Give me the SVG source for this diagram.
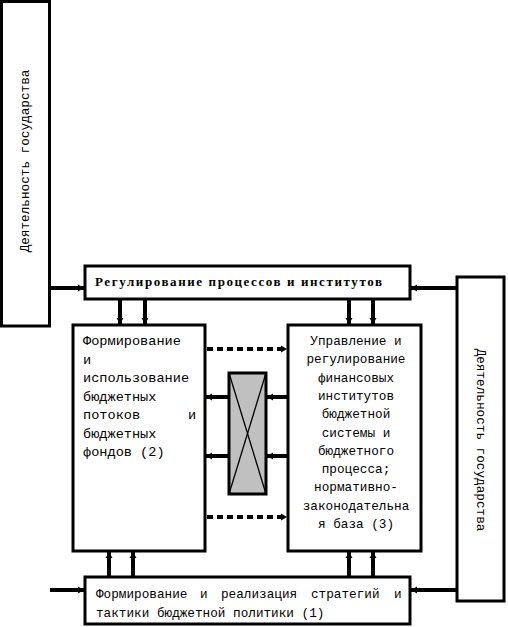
<svg xmlns="http://www.w3.org/2000/svg" width="508" height="627" viewBox="0 0 508 627">
<style>
.box{fill:#fff;stroke:#000;stroke-width:3}
.mono{font-family:"Liberation Mono","Courier New",monospace;font-size:12.7px;fill:#000}
.mono2{font-family:"Liberation Mono","Courier New",monospace;font-size:13.6px;fill:#000}
.bold{font-family:"Liberation Serif","Times New Roman",serif;font-weight:bold;font-size:13px;fill:#000}
.ln{stroke:#000;stroke-width:4;fill:none}
.dot{stroke:#000;stroke-width:4;fill:none;stroke-dasharray:6 4}
</style>
<defs>
<marker id="ah" markerUnits="userSpaceOnUse" markerWidth="7" markerHeight="8" refX="6" refY="4" orient="auto">
<path d="M0,0.5 L6,4 L0,7.5 z" fill="#000"/>
</marker>
</defs>
<g id="state-left">
<rect class="box" x="1.5" y="1.5" width="48" height="324.5"/>
<text class="mono" transform="translate(29,161) rotate(-90)" text-anchor="middle">Деятельность государства</text>
</g>
<g id="state-right">
<rect class="box" x="457" y="277" width="47" height="324"/>
<text class="mono" transform="translate(477,440) rotate(90)" text-anchor="middle">Деятельность государства</text>
</g>
<g id="regulation">
<rect class="box" x="85" y="266" width="325" height="33"/>
<text class="bold" x="95" y="286" textLength="287" lengthAdjust="spacing">Регулирование процессов и институтов</text>
</g>
<g id="block2">
<rect class="box" x="73" y="325" width="132" height="226"/>
<text class="mono2" x="83" y="345">Формирование</text>
<text class="mono2" x="83" y="363.5">и</text>
<text class="mono2" x="83" y="382">использование</text>
<text class="mono2" x="83" y="400.5">бюджетных</text>
<text class="mono2" x="83" y="419">потоков</text>
<text class="mono2" x="188" y="419">и</text>
<text class="mono2" x="83" y="437.5">бюджетных</text>
<text class="mono2" x="83" y="456">фондов (2)</text>
</g>
<g id="block3">
<rect class="box" x="288" y="325" width="133" height="226"/>
<g class="mono" text-anchor="middle">
<text x="356" y="345">Управление и</text>
<text x="356" y="363.3">регулирование</text>
<text x="356" y="381.6">финансовых</text>
<text x="356" y="399.9">институтов</text>
<text x="356" y="418.2">бюджетной</text>
<text x="356" y="436.5">системы и</text>
<text x="356" y="454.8">бюджетного</text>
<text x="356" y="473.1">процесса;</text>
<text x="356" y="491.4">нормативно-</text>
<text x="356" y="509.7">законодательна</text>
<text x="356" y="528">я база (3)</text>
</g>
</g>
<g id="switch">
<rect x="229" y="373" width="37" height="121" fill="#c0c0c0" stroke="#000" stroke-width="3"/>
<line x1="229" y1="373" x2="266" y2="494" stroke="#000" stroke-width="1.3"/>
<line x1="266" y1="373" x2="229" y2="494" stroke="#000" stroke-width="1.3"/>
</g>
<g id="strategy">
<rect class="box" x="85" y="577" width="325" height="47"/>
<text class="mono" x="96" y="598">Формирование</text>
<text class="mono" x="200" y="598">и</text>
<text class="mono" x="221" y="598">реализация</text>
<text class="mono" x="311" y="598">стратегий</text>
<text class="mono" x="394" y="598">и</text>
<text class="mono" x="96" y="617">тактики бюджетной политики (1)</text>
</g>
<g id="connectors">
<line class="ln" x1="50" y1="288" x2="84" y2="288" marker-end="url(#ah)"/>
<line class="ln" x1="456" y1="288" x2="411" y2="288" marker-end="url(#ah)"/>
<line class="ln" x1="120" y1="299" x2="120" y2="324" marker-end="url(#ah)"/>
<line class="ln" x1="145" y1="299" x2="145" y2="324" marker-end="url(#ah)"/>
<line class="ln" x1="349" y1="299" x2="349" y2="324" marker-end="url(#ah)"/>
<line class="ln" x1="373" y1="299" x2="373" y2="324" marker-end="url(#ah)"/>
<line class="ln" x1="109" y1="577" x2="109" y2="552" marker-end="url(#ah)"/>
<line class="ln" x1="133" y1="577" x2="133" y2="552" marker-end="url(#ah)"/>
<line class="ln" x1="349" y1="577" x2="349" y2="552" marker-end="url(#ah)"/>
<line class="ln" x1="373" y1="577" x2="373" y2="552" marker-end="url(#ah)"/>
<line class="ln" x1="50" y1="590" x2="84" y2="590" marker-end="url(#ah)"/>
<line class="ln" x1="456" y1="590" x2="411" y2="590" marker-end="url(#ah)"/>
<line class="dot" x1="207" y1="349" x2="287" y2="349" marker-end="url(#ah)"/>
<line class="dot" x1="207" y1="517" x2="287" y2="517" marker-end="url(#ah)"/>
<line class="ln" x1="287" y1="397" x2="267" y2="397" marker-end="url(#ah)"/>
<line class="ln" x1="228" y1="397" x2="206" y2="397" marker-end="url(#ah)"/>
<line class="ln" x1="287" y1="456" x2="267" y2="456" marker-end="url(#ah)"/>
<line class="ln" x1="228" y1="456" x2="206" y2="456" marker-end="url(#ah)"/>
</g>
</svg>
